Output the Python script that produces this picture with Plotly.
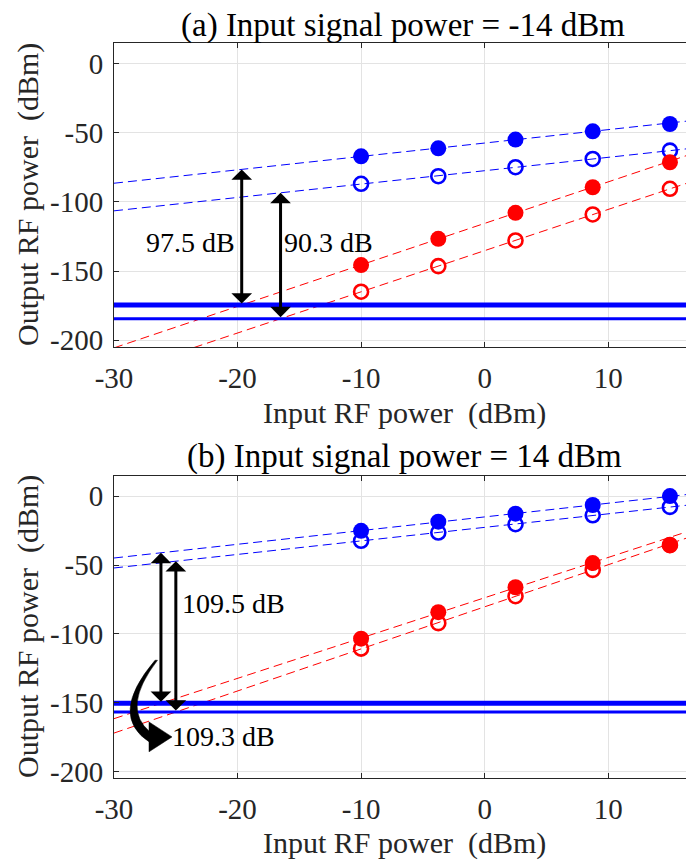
import numpy as np
import plotly.graph_objects as go

# ---------------- data ----------------
rf_in = [-10, -3.75, 2.5, 8.75, 15]

a_fund_filled = [-67.0, -61.2, -54.9, -48.9, -43.6]
a_fund_open = [-86.9, -81.4, -74.9, -68.9, -62.9]
a_imd_filled = [-145.7, -126.7, -107.9, -89.4, -71.3]
a_imd_open = [-165.0, -146.5, -127.9, -109.1, -90.5]
a_floor_thick = -174.6
a_floor_thin = -184.5

b_fund_filled = [-25.1, -18.4, -12.6, -6.3, 0.2]
b_fund_open = [-32.3, -26.3, -20.3, -13.8, -7.7]
b_imd_filled = [-103.5, -84.2, -66.1, -48.5, -35.5]
b_imd_open = [-110.7, -92.2, -72.6, -53.5, -35.5]
b_floor_thick = -150.5
b_floor_thin = -156.8

x_ticks = [-30, -20, -10, 0, 10]
x_tick_text = ["-30", "-20", "-10", "0", "10"]
y_ticks = [0, -50, -100, -150, -200]
y_tick_text = ["0", "-50", "-100", "-150", "-200"]
x_range = [-30, 16.3]
y_range = [-205, 15]

titles = ["(a) Input signal power = -14 dBm", "(b) Input signal power = 14 dBm"]
a_labels = ["97.5 dB", "90.3 dB"]
b_labels = ["109.5 dB", "109.3 dB"]

FIT_N = 4
BLUE = "#0000ff"
RED = "#ff0000"
FONT = "Liberation Serif"
TXT = "#262626"


def fit(y):
    return np.polyfit(rf_in[:FIT_N], y[:FIT_N], 1)


fig = go.Figure()
xl = np.array(x_range)


def add_panel(xa, ya, ff, fo, imf, imo, fthick, fthin):
    for y, col in [(ff, BLUE), (fo, BLUE), (imf, RED), (imo, RED)]:
        p = fit(y)
        fig.add_trace(go.Scatter(x=xl, y=np.polyval(p, xl), mode="lines",
                                 line=dict(color=col, width=1, dash="9px,5px"),
                                 xaxis=xa, yaxis=ya, hoverinfo="skip"))
    fig.add_trace(go.Scatter(x=xl, y=[fthick, fthick], mode="lines",
                             line=dict(color=BLUE, width=5), xaxis=xa, yaxis=ya))
    fig.add_trace(go.Scatter(x=xl, y=[fthin, fthin], mode="lines",
                             line=dict(color=BLUE, width=3), xaxis=xa, yaxis=ya))
    for y, col in [(fo, BLUE), (imo, RED)]:
        fig.add_trace(go.Scatter(x=rf_in, y=y, mode="markers",
                                 marker=dict(symbol="circle-open", size=14, color=col,
                                             line=dict(width=2.6, color=col)),
                                 xaxis=xa, yaxis=ya))
    for y, col in [(ff, BLUE), (imf, RED)]:
        fig.add_trace(go.Scatter(x=rf_in, y=y, mode="markers",
                                 marker=dict(symbol="circle", size=16, color=col),
                                 xaxis=xa, yaxis=ya))
    # SFDR arrows: where IMD3 fit meets floor, up to fundamental fit
    arrows = []
    for fund, imd, floor in [(ff, imf, fthick), (fo, imo, fthin)]:
        pi = fit(imd)
        xa_ = (floor - pi[1]) / pi[0]
        ytop = np.polyval(fit(fund), xa_)
        arrows.append((xa_, ytop, floor))
    return arrows


arr_a = add_panel("x", "y", a_fund_filled, a_fund_open, a_imd_filled, a_imd_open,
                  a_floor_thick, a_floor_thin)
arr_b = add_panel("x2", "y2", b_fund_filled, b_fund_open, b_imd_filled, b_imd_open,
                  b_floor_thick, b_floor_thin)

annotations = []
for arrs, xr, yr in [(arr_a, "x", "y"), (arr_b, "x2", "y2")]:
    for (xa_, ytop, floor) in arrs:
        annotations.append(dict(x=xa_, y=ytop, ax=xa_, ay=floor, xref=xr, yref=yr,
                                axref=xr, ayref=yr, text="", showarrow=True,
                                arrowhead=1, startarrowhead=1, arrowside="end+start",
                                arrowwidth=3, arrowsize=1.15, startarrowsize=1.15,
                                arrowcolor="black", standoff=0, startstandoff=0))

lab_font = dict(family=FONT, size=28, color="black")
annotations += [
    dict(x=-23.8, y=-129.3, xref="x", yref="y", text=a_labels[0], showarrow=False,
         font=lab_font, xanchor="center", yanchor="middle"),
    dict(x=-12.6, y=-129.3, xref="x", yref="y", text=a_labels[1], showarrow=False,
         font=lab_font, xanchor="center", yanchor="middle"),
    dict(x=-20.36, y=-77.7, xref="x2", yref="y2", text=b_labels[0], showarrow=False,
         font=lab_font, xanchor="center", yanchor="middle"),
    dict(x=-21.13, y=-174.7, xref="x2", yref="y2", text=b_labels[1], showarrow=False,
         font=lab_font, xanchor="center", yanchor="middle"),
]

# titles and axis titles
H, W = 861, 686
tfont = dict(family=FONT, size=33, color="black")
afont = dict(family=FONT, size=30, color=TXT)
annotations += [
    dict(x=403 / W, y=1 - 26 / H, xref="paper", yref="paper", text=titles[0],
         showarrow=False, font=tfont, xanchor="center", yanchor="middle"),
    dict(x=404 / W, y=1 - 456.7 / H, xref="paper", yref="paper", text=titles[1],
         showarrow=False, font=tfont, xanchor="center", yanchor="middle"),
    dict(x=404 / W, y=1 - 413 / H, xref="paper", yref="paper",
         text="Input RF power&nbsp; (dBm)", showarrow=False, font=afont,
         xanchor="center", yanchor="middle"),
    dict(x=404 / W, y=1 - 843 / H, xref="paper", yref="paper",
         text="Input RF power&nbsp; (dBm)", showarrow=False, font=afont,
         xanchor="center", yanchor="middle"),
    dict(x=28 / W, y=1 - 195 / H, xref="paper", yref="paper",
         text="Output RF power&nbsp; (dBm)", showarrow=False, font=afont,
         textangle=-90, xanchor="center", yanchor="middle"),
    dict(x=28 / W, y=1 - 627 / H, xref="paper", yref="paper",
         text="Output RF power&nbsp; (dBm)", showarrow=False, font=afont,
         textangle=-90, xanchor="center", yanchor="middle"),
]

# curved arrow (panel b)
shapes = [
    dict(type="path", xref="x2", yref="y2",
         path="M -26.680,-119.17 Q -30.500,-159.50 -27.085,-179.00 "
              "L -27.085,-171.28 Q -29.450,-153.91 -26.480,-119.17 Z",
         fillcolor="black", line=dict(color="black", width=0.5)),
    dict(type="path", xref="x2", yref="y2",
         path="M -27.166,-164.04 L -27.166,-185.75 L -25.304,-174.89 Z",
         fillcolor="black", line=dict(color="black", width=0.5)),
]

axis_common = dict(showline=True, linecolor=TXT, linewidth=1,
                   ticks="inside", ticklen=5, tickcolor=TXT, showgrid=True,
                   gridcolor="#e3e3e3", gridwidth=1, zeroline=False, automargin=False,
                   tickfont=dict(family=FONT, size=29, color=TXT))
xcommon = dict(axis_common, range=x_range, tickvals=x_ticks, ticktext=x_tick_text,
               domain=[114 / W, 1.0], ticklabelstandoff=5, mirror="ticks")
ycommon = dict(axis_common, range=y_range, tickvals=y_ticks, ticktext=y_tick_text,
               ticklabelstandoff=4, mirror=False)

fig.update_layout(
    width=W, height=H, showlegend=False,
    margin=dict(l=0, r=0, t=0, b=0, autoexpand=False),
    paper_bgcolor="white", plot_bgcolor="white",
    xaxis=dict(xcommon, anchor="y"),
    yaxis=dict(ycommon, anchor="x", domain=[1 - 347 / H, 1 - 43 / H]),
    xaxis2=dict(xcommon, anchor="y2"),
    yaxis2=dict(ycommon, anchor="x2", domain=[1 - 778.3 / H, 1 - 475.7 / H]),
    annotations=annotations, shapes=shapes,
)

fig.write_html("out.html", config={"displayModeBar": False},
               post_script="document.body.style.margin='0';"
                           "document.body.style.padding='0';"
                           "document.body.style.overflow='hidden';")
